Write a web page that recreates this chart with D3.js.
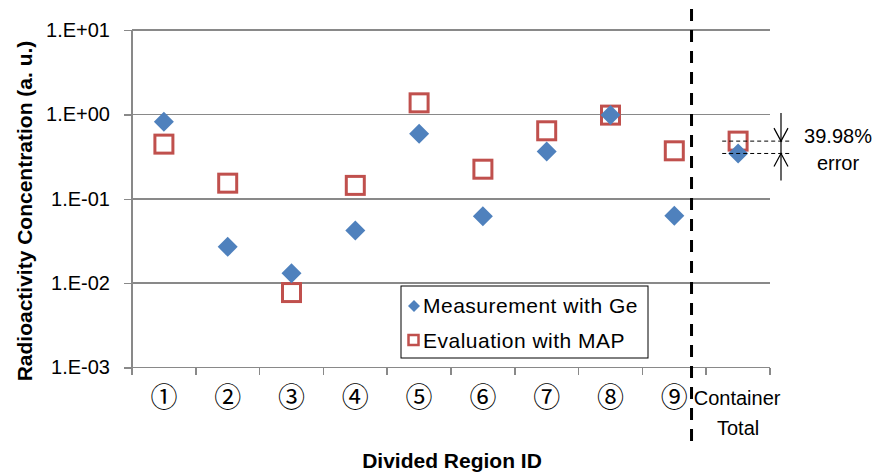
<!DOCTYPE html>
<html lang="en">
<head>
  <meta charset="UTF-8">
  <title>Radioactivity Concentration</title>
  <script src="https://cdn.jsdelivr.net/npm/d3@7"></script>
  <style>
  body{
    margin: 0;
    background: #fff;
  }
  .axis path, .axis line {
    stroke: #898989;
    stroke-width: 1.5px;
    shape-rendering: crispEdges;
  }
  .grid line {
    stroke: #898989;
    stroke-width: 1.5px;
    shape-rendering: crispEdges;
  }
  .tickText {
    font-family: 'Liberation Sans', Arial, sans-serif;
    font-size: 20px;
    fill: #000;
  }
  .catText {
    font-family: 'Liberation Sans', Arial, sans-serif;
    font-size: 20px;
    fill: #000;
  }
  .circled {
    font-family: 'Noto Sans CJK JP', sans-serif;
    font-size: 27px;
    fill: #000;
  }
  .titulo {
    font-family: 'Liberation Sans', Arial, sans-serif;
    font-weight: 700;
    font-size: 21px;
    fill: #000;
  }
  .leyenda {
    font-family: 'Liberation Sans', Arial, sans-serif;
    font-size: 21px;
    letter-spacing: 0.5px;
    fill: #000;
  }
  .nota {
    font-family: 'Liberation Sans', Arial, sans-serif;
    font-size: 20px;
    fill: #000;
  }
  </style>
</head>
<body>
  <div id="grafico"></div>

  <script>
    // datos
    var categorias = ['①', '②', '③', '④', '⑤', '⑥', '⑦', '⑧', '⑨', 'Container'];
    var medicionGe = [0.817, 0.0269, 0.0131, 0.0421, 0.589, 0.0622, 0.364, 0.98, 0.0627, 0.344];
    var evaluacionMAP = [0.444, 0.153, 0.00773, 0.144, 1.37, 0.224, 0.639, 0.98, 0.370, 0.482];
    var ticksY = [1e-3, 1e-2, 1e-1, 1e0, 1e1];
    var etiquetasY = ['1.E-03', '1.E-02', '1.E-01', '1.E+00', '1.E+01'];
    var series = ['Measurement with Ge', 'Evaluation with MAP'];
    var errorTexto = ['39.98%', 'error'];

    var w = 875;
    var h = 472;
    var izq = 132, der = 770, arriba = 30, abajo = 367.5;
    var azul = '#4F81BD';
    var rojo = '#C0504D';

    var grafico = d3.select("#grafico")
      .append("svg")
      .attr("width", w)
      .attr("height", h);

    //Escalas
    var xScale = d3.scaleBand()
      .domain(categorias)
      .range([izq, der]);

    var yScale = d3.scaleLog()
      .domain([1e-3, 1e1])
      .range([abajo, arriba]);

    //Grid horizontal
    grafico.append("g")
      .attr("class", "grid")
      .selectAll("line")
      .data(ticksY)
      .enter()
      .append("line")
      .attr("x1", izq)
      .attr("x2", der)
      .attr("y1", function(d){ return yScale(d); })
      .attr("y2", function(d){ return yScale(d); });

    //Eje Y
    var yAxis = d3.axisLeft(yScale)
      .tickValues(ticksY)
      .tickSize(8)
      .tickPadding(14)
      .tickFormat(function(d, i){ return etiquetasY[i]; });

    var ejeY = grafico.append("g")
      .attr("class", "axis")
      .attr("transform", "translate(" + izq + ",0)")
      .call(yAxis);
    ejeY.select(".domain").attr("d", "M0," + arriba + "V" + abajo);
    ejeY.selectAll("text").attr("class", "tickText");

    //Eje X (ticks en los limites de cada banda)
    var limites = categorias.map(function(c){ return xScale(c); }).concat([der]);
    var ejeX = grafico.append("g").attr("class", "axis");
    ejeX.append("line")
      .attr("x1", izq).attr("x2", der)
      .attr("y1", abajo).attr("y2", abajo);
    ejeX.selectAll(".tk")
      .data(limites)
      .enter()
      .append("line")
      .attr("x1", function(d){ return d; })
      .attr("x2", function(d){ return d; })
      .attr("y1", abajo)
      .attr("y2", abajo + 7);

    //Etiquetas de categorias
    grafico.selectAll(".cat")
      .data(categorias)
      .enter()
      .append("text")
      .attr("class", function(d){ return d === 'Container' ? 'catText' : 'circled'; })
      .attr("text-anchor", "middle")
      .attr("x", function(d){ return xScale(d) + xScale.bandwidth() / 2 + (d === 'Container' ? -1 : 0); })
      .attr("y", function(d){ return d === 'Container' ? 405 : 407; })
      .text(function(d){ return d; });
    grafico.append("text")
      .attr("class", "catText")
      .attr("text-anchor", "middle")
      .attr("x", xScale('Container') + xScale.bandwidth() / 2)
      .attr("y", 435)
      .text("Total");

    //Linea vertical discontinua
    var xSep = xScale('⑨') + xScale.bandwidth() * 0.77;
    grafico.append("line")
      .attr("x1", xSep).attr("x2", xSep)
      .attr("y1", 9).attr("y2", 448)
      .attr("stroke", "#000")
      .attr("stroke-width", 3)
      .attr("stroke-dasharray", "12,9");

    //Cuadrados (MAP)
    var lado = 18;
    grafico.selectAll(".cuadro")
      .data(evaluacionMAP)
      .enter()
      .append("rect")
      .attr("x", function(d, i){ return xScale(categorias[i]) + xScale.bandwidth() / 2 - lado / 2; })
      .attr("y", function(d){ return yScale(d) - lado / 2; })
      .attr("width", lado)
      .attr("height", lado)
      .attr("fill", "none")
      .attr("stroke", rojo)
      .attr("stroke-width", 3);

    //Rombos (Ge)
    var simbolo = d3.symbol().type(d3.symbolSquare).size(200);
    grafico.selectAll(".rombo")
      .data(medicionGe)
      .enter()
      .append("path")
      .attr("d", simbolo)
      .attr("fill", azul)
      .attr("transform", function(d, i){
        return "translate(" + (xScale(categorias[i]) + xScale.bandwidth() / 2) + "," + yScale(d) + ") rotate(45)";
      });

    //Anotacion de error
    var iC = categorias.length - 1;
    var yMed = yScale(medicionGe[iC]);
    var yEval = yScale(evaluacionMAP[iC]);
    var xFlecha = der + 11;
    var nota = grafico.append("g");
    [yEval, yMed].forEach(function(yy){
      nota.append("line")
        .attr("x1", xScale('Container') + 16).attr("x2", der + 20)
        .attr("y1", yy).attr("y2", yy)
        .attr("stroke", "#000")
        .attr("stroke-width", 1)
        .attr("stroke-dasharray", "4,3");
    });
    nota.append("line")
      .attr("x1", xFlecha).attr("x2", xFlecha)
      .attr("y1", yEval - 28).attr("y2", yMed + 27)
      .attr("stroke", "#000").attr("stroke-width", 1.2);
    nota.append("path")
      .attr("d", "M" + (xFlecha - 7) + "," + (yEval - 13) + "L" + xFlecha + "," + yEval + "L" + (xFlecha + 7) + "," + (yEval - 13))
      .attr("fill", "none").attr("stroke", "#000").attr("stroke-width", 1.2);
    nota.append("path")
      .attr("d", "M" + (xFlecha - 7) + "," + (yMed + 13) + "L" + xFlecha + "," + yMed + "L" + (xFlecha + 7) + "," + (yMed + 13))
      .attr("fill", "none").attr("stroke", "#000").attr("stroke-width", 1.2);
    nota.selectAll("text")
      .data(errorTexto)
      .enter()
      .append("text")
      .attr("class", "nota")
      .attr("text-anchor", "middle")
      .attr("x", 838)
      .attr("y", function(d, i){ return i === 0 ? 142.5 : 170; })
      .text(function(d){ return d; });

    //Leyenda
    var ley = grafico.append("g");
    ley.append("rect")
      .attr("x", 401).attr("y", 286)
      .attr("width", 247).attr("height", 72)
      .attr("fill", "#fff")
      .attr("stroke", "#000")
      .attr("stroke-width", 1);
    ley.append("path")
      .attr("d", d3.symbol().type(d3.symbolSquare).size(72))
      .attr("fill", azul)
      .attr("transform", "translate(414,306) rotate(45)");
    ley.append("rect")
      .attr("x", 408.5).attr("y", 335)
      .attr("width", 10).attr("height", 10)
      .attr("fill", "none")
      .attr("stroke", rojo)
      .attr("stroke-width", 2.5);
    ley.selectAll("text")
      .data(series)
      .enter()
      .append("text")
      .attr("class", "leyenda")
      .attr("x", 423)
      .attr("y", function(d, i){ return 313 + i * 35; })
      .text(function(d){ return d; });

    //Titulos
    grafico.append("text")
      .attr("class", "titulo")
      .attr("text-anchor", "middle")
      .attr("transform", "translate(32,211) rotate(-90)")
      .text("Radioactivity Concentration (a. u.)");
    grafico.append("text")
      .attr("class", "titulo")
      .attr("text-anchor", "middle")
      .attr("x", 452)
      .attr("y", 468)
      .text("Divided Region ID");
  </script>
</body>
</html>
